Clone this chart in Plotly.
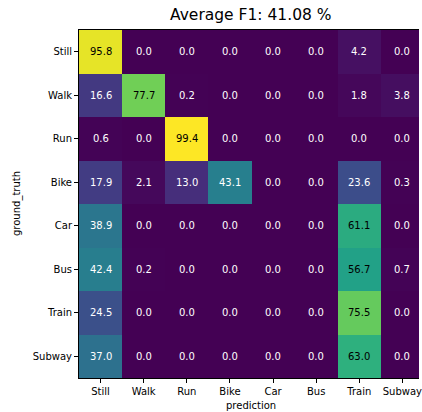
import plotly.graph_objects as go

classes = ["Still", "Walk", "Run", "Bike", "Car", "Bus", "Train", "Subway"]

# confusion matrix in percent, rows = ground truth, columns = prediction
row_still = [95.8, 0.0, 0.0, 0.0, 0.0, 0.0, 4.2, 0.0]
row_walk = [16.6, 77.7, 0.2, 0.0, 0.0, 0.0, 1.8, 3.8]
row_run = [0.6, 0.0, 99.4, 0.0, 0.0, 0.0, 0.0, 0.0]
row_bike = [17.9, 2.1, 13.0, 43.1, 0.0, 0.0, 23.6, 0.3]
row_car = [38.9, 0.0, 0.0, 0.0, 0.0, 0.0, 61.1, 0.0]
row_bus = [42.4, 0.2, 0.0, 0.0, 0.0, 0.0, 56.7, 0.7]
row_train = [24.5, 0.0, 0.0, 0.0, 0.0, 0.0, 75.5, 0.0]
row_subway = [37.0, 0.0, 0.0, 0.0, 0.0, 0.0, 63.0, 0.0]

matrix = [row_still, row_walk, row_run, row_bike, row_car, row_bus, row_train, row_subway]
average_f1 = 41.08

FONT = "DejaVu Sans"
zmax = max(max(r) for r in matrix)
thresh = zmax / 2.0

fig = go.Figure(
    go.Heatmap(
        z=matrix,
        x=list(range(len(classes))),
        y=list(range(len(classes))),
        colorscale="Viridis",
        zmin=0,
        zmax=zmax,
        showscale=False,
        hoverinfo="skip",
    )
)

annotations = []
for i, row in enumerate(matrix):
    for j, v in enumerate(row):
        annotations.append(dict(
            x=j, y=i, xref="x", yref="y",
            text=f"{v:.1f}", showarrow=False,
            font=dict(family=FONT, size=10, color="black" if v > thresh else "white"),
        ))

annotations.append(dict(
    x=(253 - 79) / (422 - 79), y=1, xref="paper", yref="paper", yanchor="bottom", yshift=4,
    text=f"Average F1: {average_f1:.2f} %", showarrow=False,
    font=dict(family=FONT, size=15.5, color="black"),
))
annotations.append(dict(
    x=(253 - 79) / (422 - 79), y=0, xref="paper", yref="paper",
    yanchor="top", yshift=-20,
    text="prediction", showarrow=False,
    font=dict(family=FONT, size=10, color="black"),
))
annotations.append(dict(
    x=0, y=0.5, xref="paper", yref="paper", xanchor="center",
    xshift=-62, textangle=-90,
    text="ground_truth", showarrow=False,
    font=dict(family=FONT, size=10, color="black"),
))

axis_common = dict(
    tickmode="array",
    tickvals=list(range(len(classes))),
    ticktext=classes,
    ticks="outside",
    ticklen=4,
    tickwidth=1,
    tickcolor="black",
    showgrid=False,
    zeroline=False,
    showline=True,
    linecolor="black",
    linewidth=1,
    tickfont=dict(family=FONT, size=10, color="black"),
)

fig.update_layout(
    width=422,
    height=412,
    margin=dict(l=79, r=0, t=30, b=34),
    paper_bgcolor="white",
    plot_bgcolor="white",
    xaxis=dict(range=[-0.5, 7.385], mirror=True, ticklabeloverflow="allow", **axis_common),
    yaxis=dict(range=[7.5, -0.5], **axis_common),
    annotations=annotations,
)

fig.write_html("out.html")
